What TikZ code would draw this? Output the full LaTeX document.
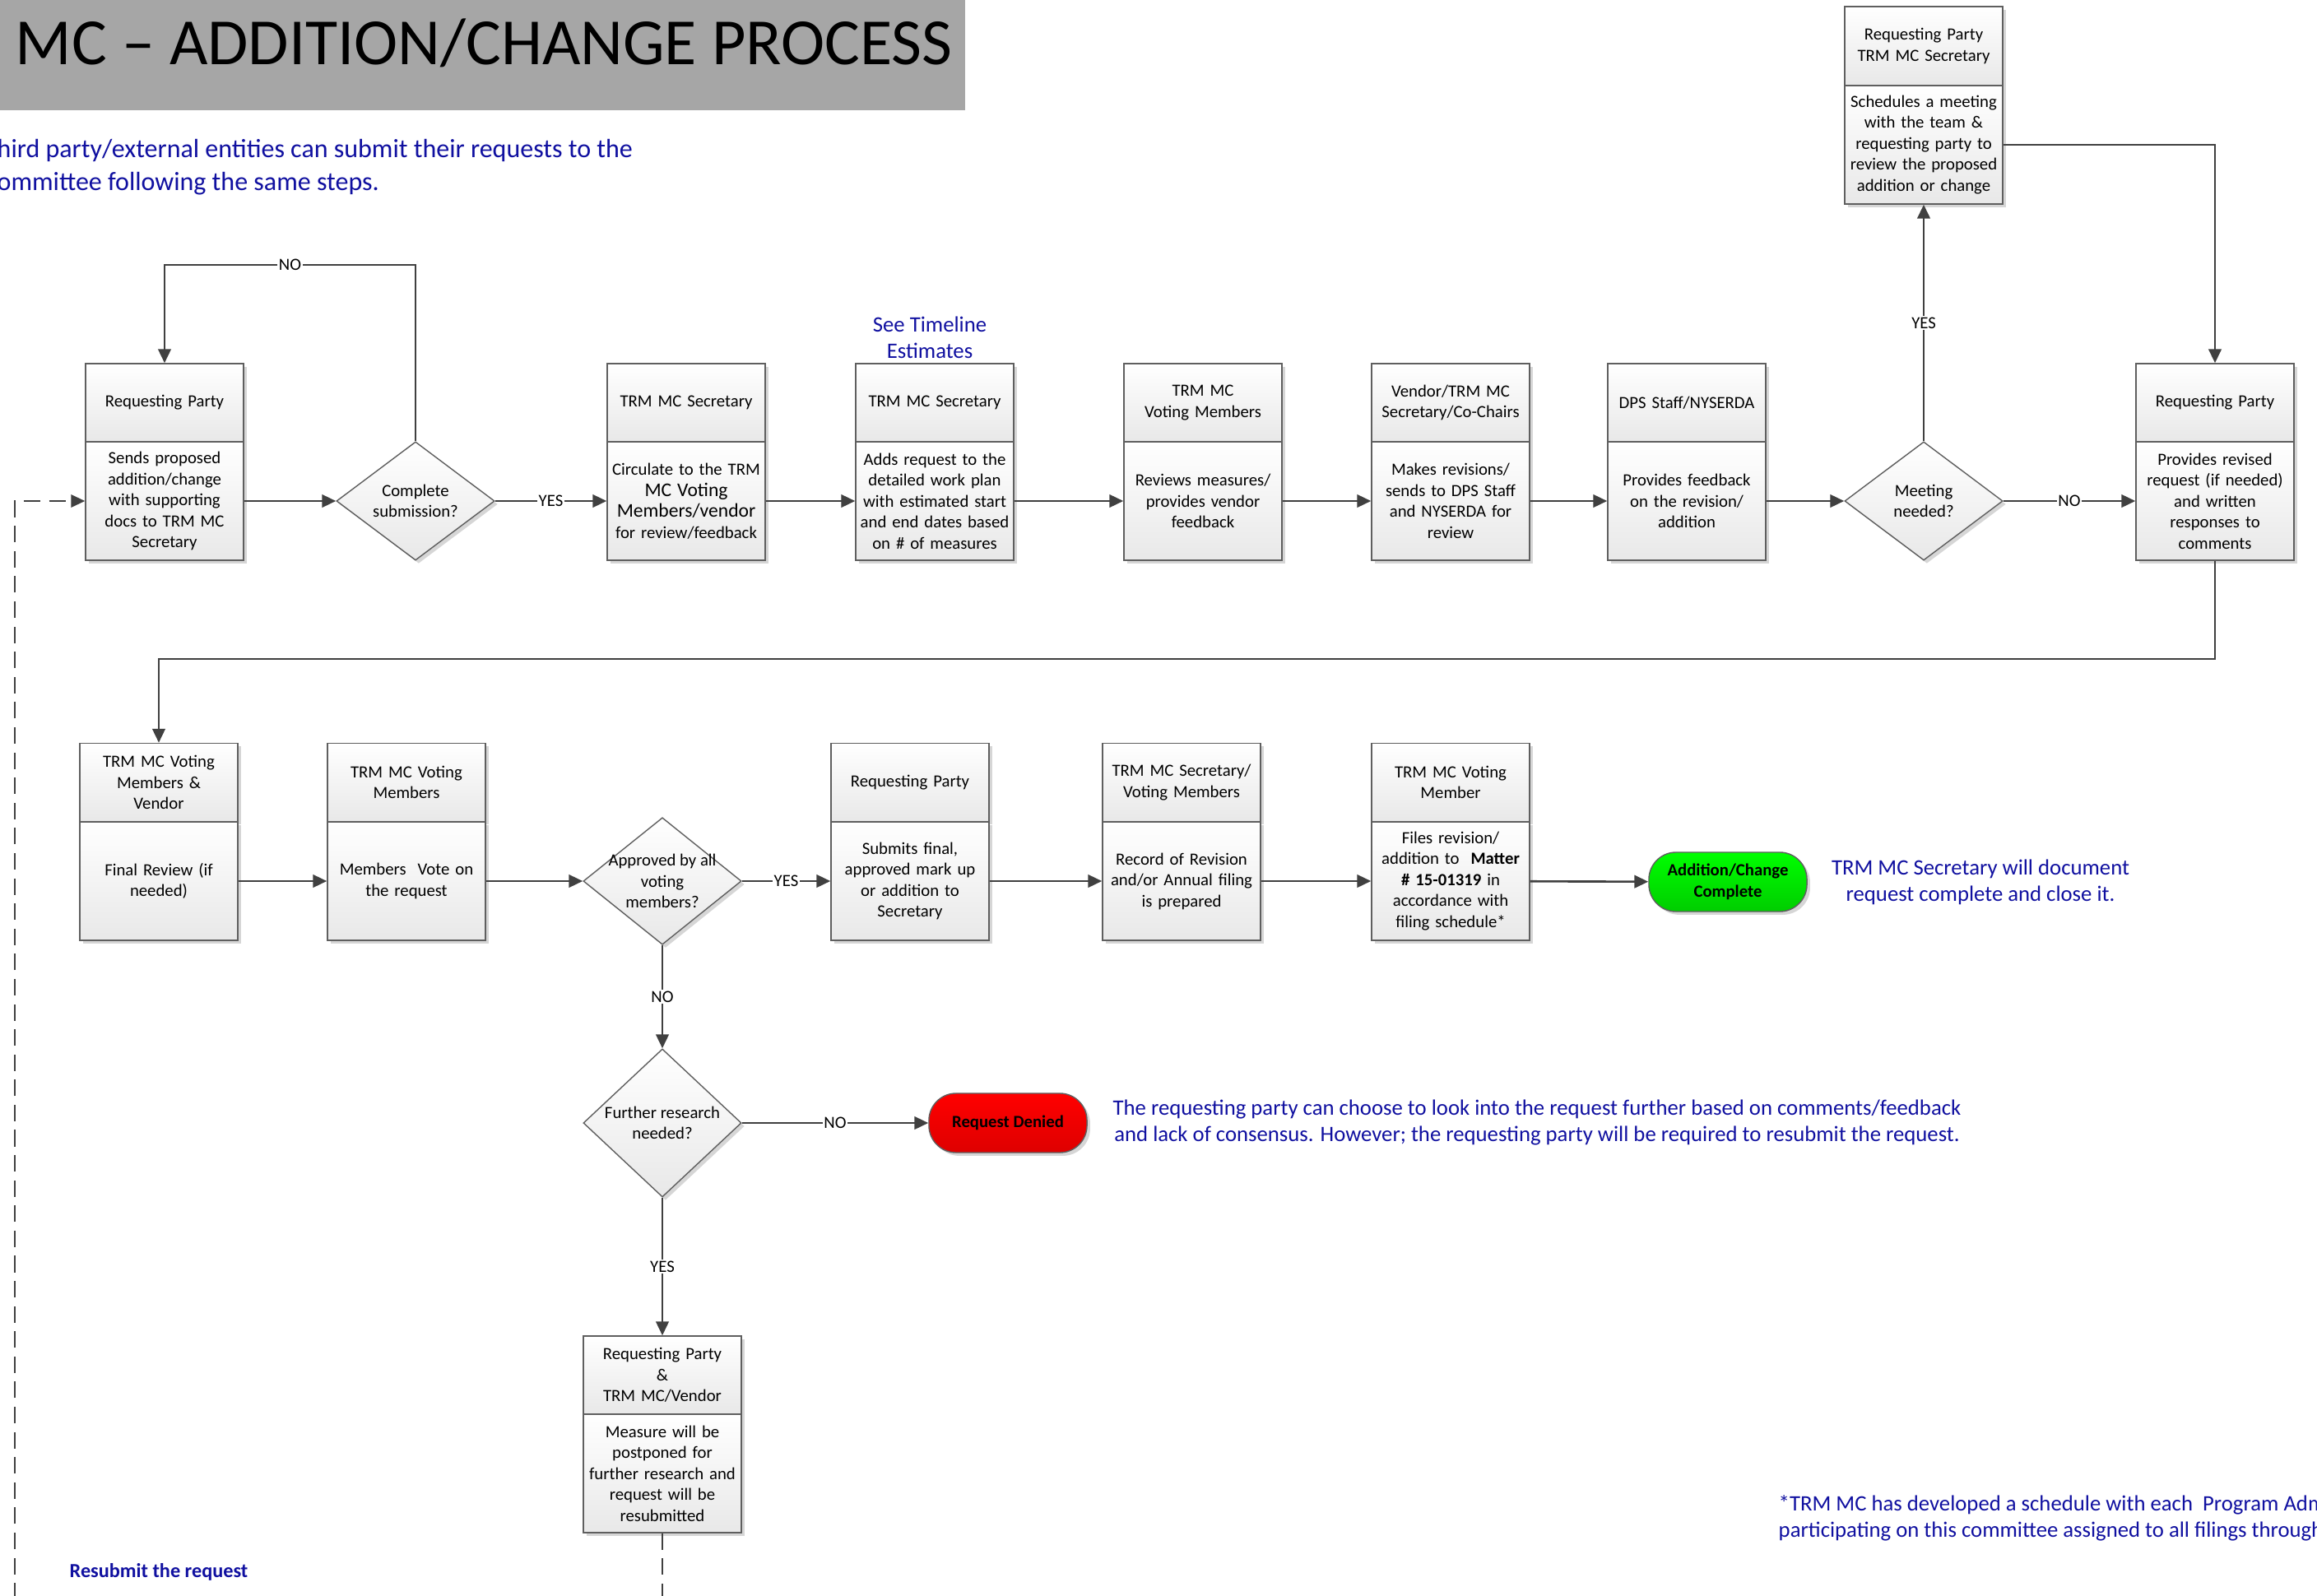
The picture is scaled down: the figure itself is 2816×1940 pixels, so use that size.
\documentclass[tikz,border=0pt]{standalone}
\usepackage{fontspec}
\setmainfont{Carlito}
\usetikzlibrary{arrows.meta,shapes.geometric,shadows}

\definecolor{linegray}{RGB}{64,64,64}
\definecolor{boxedge}{RGB}{95,95,95}
\definecolor{noteblue}{RGB}{16,16,160}
\definecolor{titlegray}{RGB}{166,166,166}
\definecolor{donetop}{RGB}{0,255,0}
\definecolor{donebot}{RGB}{0,205,0}
\definecolor{deniedtop}{RGB}{255,0,0}
\definecolor{deniedbot}{RGB}{222,0,0}

\newcommand{\wideline}[1]{{\fontsize{6.7}{7.25}\selectfont #1}}

\begin{document}
\begin{tikzpicture}[x=0.01cm,y=-0.01cm,
    boxhead/.style={draw=boxedge,line width=0.4pt,top color=white,bottom color=black!9,
        minimum width=1.92cm,minimum height=0.95cm,text width=1.86cm,align=center,inner sep=0pt,
        font=\fontsize{5.9}{7.25}\selectfont,
        drop shadow={shadow xshift=1.1pt,shadow yshift=-1.1pt,fill=black!16,opacity=1}},
    boxbody/.style={boxhead,minimum height=1.44cm},
    decision/.style={shape=diamond,draw=boxedge,line width=0.4pt,top color=white,bottom color=black!9,
        minimum width=1.92cm,minimum height=1.44cm,inner sep=0pt,align=center,
        font=\fontsize{5.9}{7.25}\selectfont,
        drop shadow={shadow xshift=1.1pt,shadow yshift=-1.1pt,fill=black!16,opacity=1}},
    endpoint/.style={draw=boxedge,line width=0.4pt,rounded corners=0.33cm,
        minimum width=1.92cm,minimum height=0.72cm,inner sep=0pt,align=center,
        font=\bfseries\fontsize{5.9}{7.25}\selectfont,
        drop shadow={shadow xshift=1.1pt,shadow yshift=-1.1pt,fill=black!16,opacity=1}},
    flow/.style={draw=linegray,line width=0.75pt,-{Triangle[length=4.8pt,width=4.4pt]}},
    back/.style={flow,line width=0.55pt,dash pattern=on 5.7pt off 3pt},
    lbl/.style={fill=white,inner sep=0.5pt,font=\fontsize{5.9}{7}\selectfont},
    note/.style={text=noteblue,align=center,inner sep=0pt,font=\fontsize{7.6}{9.1}\selectfont}]
\clip (0,0) rectangle (2816,1940);
\useasboundingbox (0,0) rectangle (2816,1940);

% title bar
\fill[titlegray] (0,0) rectangle (1173,134);
\node[anchor=base west,inner sep=0pt,font=\fontsize{22.8}{27}\selectfont] (title) at (18,79) {MC -- ADDITION/CHANGE PROCESS};
\node[note,anchor=west,align=left,font=\fontsize{9.1}{11.3}\selectfont] (intro) at (-4,203)
    {hird party/external entities can submit their requests to the\\ommittee following the same steps.};

% first row
\node[boxhead] (sendH) at (200,489.5) {Requesting Party};
\node[boxbody] (send) at (200,609) {Sends proposed\\addition/change\\with supporting\\docs to TRM MC\\Secretary};

\node[decision] (cmp) at (505,609) {Complete\\submission?};

\node[boxhead] (circH) at (834,489.5) {TRM MC Secretary};
\node[boxbody] (circ) at (834,609) {Circulate to the TRM\\\wideline{MC Voting}\\\wideline{Members/vendor}\\for review/feedback};

\node[note] (timeline) at (1130,410) {See Timeline\\Estimates};
\node[boxhead] (planH) at (1136,489.5) {TRM MC Secretary};
\node[boxbody] (plan) at (1136,609) {Adds request to the\\detailed work plan\\with estimated start\\and end dates based\\on \# of measures};

\node[boxhead] (reviewH) at (1462,489.5) {TRM MC\\Voting Members};
\node[boxbody] (review) at (1462,609) {Reviews measures/\\provides vendor\\feedback};

\node[boxhead] (reviseH) at (1763,489.5) {Vendor/TRM MC\\Secretary/Co-Chairs};
\node[boxbody] (revise) at (1763,609) {Makes revisions/\\sends to DPS Staff\\and NYSERDA for\\review};

\node[boxhead] (fbH) at (2050,489.5) {DPS Staff/NYSERDA};
\node[boxbody] (fb) at (2050,609) {Provides feedback\\on the revision/\\addition};

\node[decision] (meet) at (2338,609) {Meeting\\needed?};

\node[boxhead,minimum height=0.96cm] (meetH) at (2338,56) {Requesting Party\\TRM MC Secretary};
\node[boxbody] (meetB) at (2338,176) {Schedules a meeting\\with the team \&\\requesting party to\\review the proposed\\addition or change};

\node[boxhead] (replyH) at (2692,489.5) {Requesting Party};
\node[boxbody] (reply) at (2692,609) {Provides revised\\request (if needed)\\and written\\responses to\\comments};

% second row
\node[boxhead] (finalH) at (193,951) {TRM MC Voting\\Members \&\\Vendor};
\node[boxbody] (final) at (193,1071) {Final Review (if\\needed)};

\node[boxhead] (voteH) at (494,951) {TRM MC Voting\\Members};
\node[boxbody] (vote) at (494,1071) {Members\ \ Vote on\\the request};

\node[decision,inner sep=-3pt] (appr) at (805,1071) {Approved by all\\voting\\members?};

\node[boxhead] (submitH) at (1106,951) {Requesting Party};
\node[boxbody] (submit) at (1106,1071) {Submits final,\\approved mark up\\or addition to\\Secretary};

\node[boxhead] (recordH) at (1436,951) {TRM MC Secretary/\\Voting Members};
\node[boxbody] (record) at (1436,1071) {Record of Revision\\and/or Annual filing\\is prepared};

\node[boxhead] (fileH) at (1763,951) {TRM MC Voting\\Member};
\node[boxbody] (file) at (1763,1071) {Files revision/\\addition to\ \ \textbf{Matter}\\\textbf{\# 15-01319} in\\accordance with\\filing schedule*};

\node[endpoint,top color=donetop,bottom color=donebot] (done) at (2100,1072) {Addition/Change\\Complete};
\node[note] (doneNote) at (2407,1072) {TRM MC Secretary will document\\request complete and close it.};

% third row
\node[decision] (furth) at (805,1365) {Further research\\needed?};
\node[endpoint,top color=deniedtop,bottom color=deniedbot] (denied) at (1225,1365) {Request Denied};
\node[note] (deniedNote) at (1868,1365) {The requesting party can choose to look into the request further based on comments/feedback\\and lack of consensus. However; the requesting party will be required to resubmit the request.};

\node[boxhead] (postH) at (805,1671.5) {Requesting Party\\\&\\TRM MC/Vendor};
\node[boxbody] (post) at (805,1791) {Measure will be\\postponed for\\further research and\\request will be\\resubmitted};

\node[note,anchor=west,font=\bfseries\fontsize{6.9}{8}\selectfont] (resubmit) at (84,1911) {Resubmit the request};
\node[note,anchor=west,align=left] (footnote) at (2161,1845)
    {*TRM MC has developed a schedule with each\ \ Program Adm\\participating on this committee assigned to all filings through};

% corner points
\coordinate (noTop) at (0,322);
\coordinate (wrap) at (0,801);
\coordinate (loopL) at (18,609);
\coordinate (loopB) at (18,2000);

% connectors
\draw[flow] (send) -- (cmp);
\draw[flow] (cmp.north) -- (cmp.north |- noTop) -- node[lbl] {NO} (sendH.north |- noTop) -- (sendH.north);
\draw[flow] (cmp) -- node[lbl] {YES} (circ);
\draw[flow] (circ) -- (plan);
\draw[flow] (plan) -- (review);
\draw[flow] (review) -- (revise);
\draw[flow] (revise) -- (fb);
\draw[flow] (fb) -- (meet);
\draw[flow] (meet) -- node[lbl] {NO} (reply);
\draw[flow] (meet.north) -- node[lbl] {YES} (meetB.south);
\draw[flow] (meetB.east) -- (meetB.east -| replyH.north) -- (replyH.north);
\draw[flow] (reply.south) -- (reply.south |- wrap) -- (finalH.north |- wrap) -- (finalH.north);

\draw[flow] (final) -- (vote);
\draw[flow] (vote) -- (appr);
\draw[flow] (appr) -- node[lbl] {YES} (submit);
\draw[flow] (submit) -- (record);
\draw[flow] (record) -- (file);
\draw[flow] (file) -- (done);
\draw[flow] (appr.south) -- node[lbl] {NO} (furth.north);
\draw[flow] (furth) -- node[lbl] {NO} (denied);
\draw[flow] (furth.south) -- node[lbl] {YES} (postH.north);

% back to the start
\draw[back] (post.south) -- (post.south |- loopB) -- (loopB) -- (loopL) -- (send.west);
\end{tikzpicture}
\end{document}
